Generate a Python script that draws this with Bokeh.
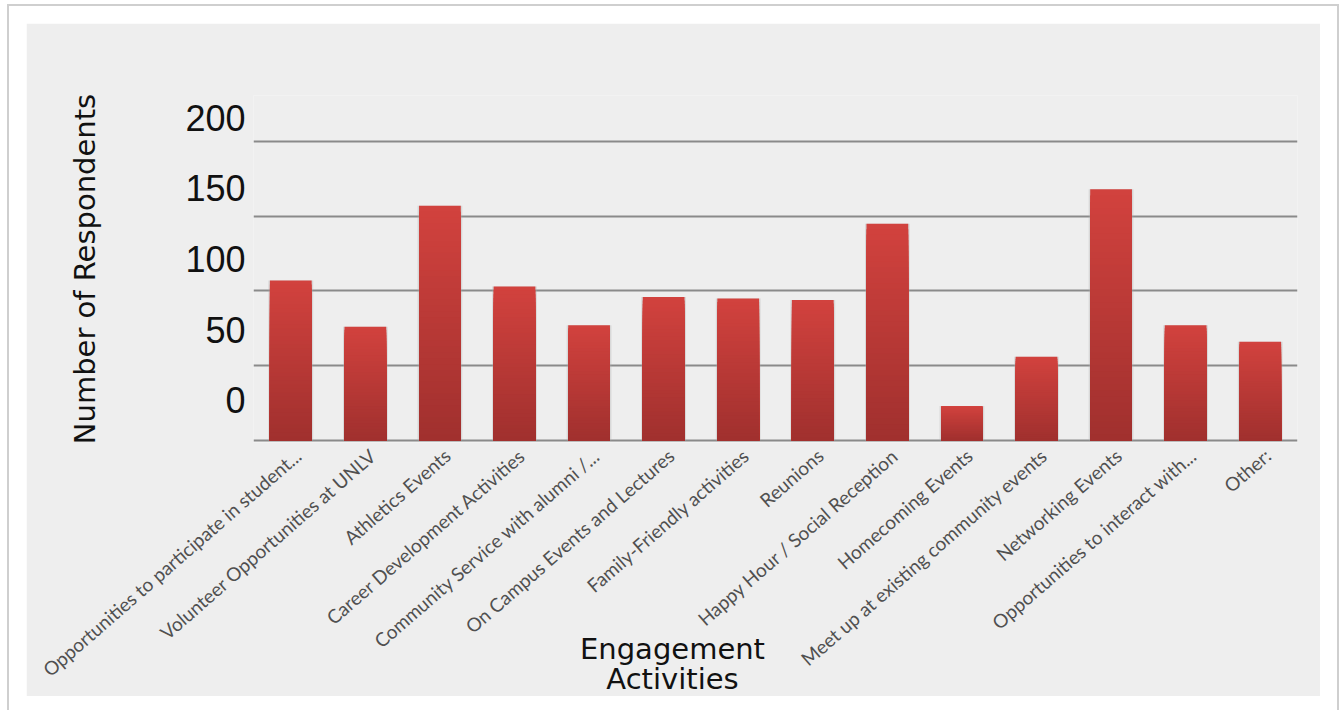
import math
import pandas as pd
from bokeh.plotting import figure
from bokeh.models import (Range1d, LinearAxis, FixedTicker, Grid, Label,
                          ColumnDataSource)
from bokeh.embed import file_html
from bokeh.resources import INLINE

categories = [
    "Opportunities to participate in student...",
    "Volunteer Opportunities at UNLV",
    "Athletics Events",
    "Career Development Activities",
    "Community Service with alumni /...",
    "On Campus Events and Lectures",
    "Family-Friendly activities",
    "Reunions",
    "Happy Hour / Social Reception",
    "Homecoming Events",
    "Meet up at existing community events",
    "Networking Events",
    "Opportunities to interact with...",
    "Other:",
]
respondents = [107, 76, 157, 103, 77, 96, 95, 94, 145, 23, 56, 168, 77, 66]
y_ticks = [0, 50, 100, 150, 200]
x_title = ["Engagement", "Activities"]

# gradient colours (bottom -> top)
c_bottom = (160, 48, 46)
c_top = (210, 66, 62)
N = 40

rows = []
idx = list(range(len(categories)))
for k in range(N, 0, -1):
    f = (k - 0.5) / N
    col = tuple(int(round(c_bottom[i] + (c_top[i] - c_bottom[i]) * f)) for i in range(3))
    hexcol = "#%02x%02x%02x" % col
    for i, v in zip(idx, respondents):
        rows.append(dict(x=i, top=v * k / N, color=hexcol))
df = pd.DataFrame(rows)
src = ColumnDataSource(df)
shadow_src = ColumnDataSource(dict(x=idx, top=respondents))

W, H = 1294, 673
p = figure(width=W, height=H, output_backend="svg", toolbar_location=None,
           x_axis_location=None, y_axis_location=None,
           x_range=Range1d(-0.5, 13.5), y_range=Range1d(-1.4, 230.8),
           min_border_left=227, min_border_right=23, min_border_top=72,
           min_border_bottom=254)
p.grid.visible = False
p.margin = (23, 0, 0, 26)
p.styles = {"box-shadow": "0 0 0 17px #ffffff, 0 0 0 19px #cfcfcf"}
p.background_fill_color = "#eeeeee"
p.border_fill_color = "#eeeeee"
p.outline_line_color = None

p.extra_y_ranges = {"lab": Range1d(-29.9, 215.7)}
p.extra_x_ranges = {"lab": Range1d(-0.6, 13.4)}

grid = Grid(dimension=1, ticker=FixedTicker(ticks=y_ticks),
            grid_line_color="#8a8a8a", grid_line_width=2)
p.add_layout(grid)

# soft shadow behind bars
p.vbar(x="x", top="top", bottom=0, width=0.6, source=shadow_src,
       fill_color="#b0b0b0", fill_alpha=0.35, line_color=None)
p.vbar(x="x", top="top", bottom=0, width=0.56, source=src,
       fill_color="color", line_color=None)

yax = LinearAxis(y_range_name="lab", ticker=FixedTicker(ticks=y_ticks),
                 axis_line_color=None, major_tick_line_color=None,
                 minor_tick_line_color=None, major_label_standoff=2,
                 major_label_text_font="Liberation Sans",
                 major_label_text_font_size="36px",
                 major_label_text_color="#111111",
                 axis_label="Number of Respondents",
                 axis_label_text_font="DejaVu Sans",
                 axis_label_text_font_size="29px",
                 axis_label_text_font_style="normal",
                 axis_label_text_color="#111111",
                 axis_label_standoff=80)
p.add_layout(yax, "left")

xax = LinearAxis(x_range_name="lab", ticker=FixedTicker(ticks=idx),
                 major_label_overrides={i: c for i, c in zip(idx, categories)},
                 major_label_orientation=math.radians(41),
                 axis_line_color=None, major_tick_line_color=None,
                 minor_tick_line_color=None, major_label_standoff=4,
                 major_label_text_font="Lato",
                 major_label_text_font_size="19px",
                 major_label_text_color="#505050")
p.add_layout(xax, "below")

# x-axis title: two labels in the (otherwise empty) top panel, offset downwards
p.add_layout(Label(x=419, y=-553, x_units="screen", y_units="screen",
                   text=x_title[0], text_align="center",
                   text_baseline="alphabetic",
                   text_font="DejaVu Sans", text_font_size="29px",
                   text_color="#111111"), "above")
p.add_layout(Label(x=419, y=-617, x_units="screen", y_units="screen",
                   text=x_title[1], text_align="center",
                   text_baseline="alphabetic",
                   text_font="DejaVu Sans", text_font_size="29px",
                   text_color="#111111"), "above")

open("out.html", "w").write(file_html(p, INLINE))
